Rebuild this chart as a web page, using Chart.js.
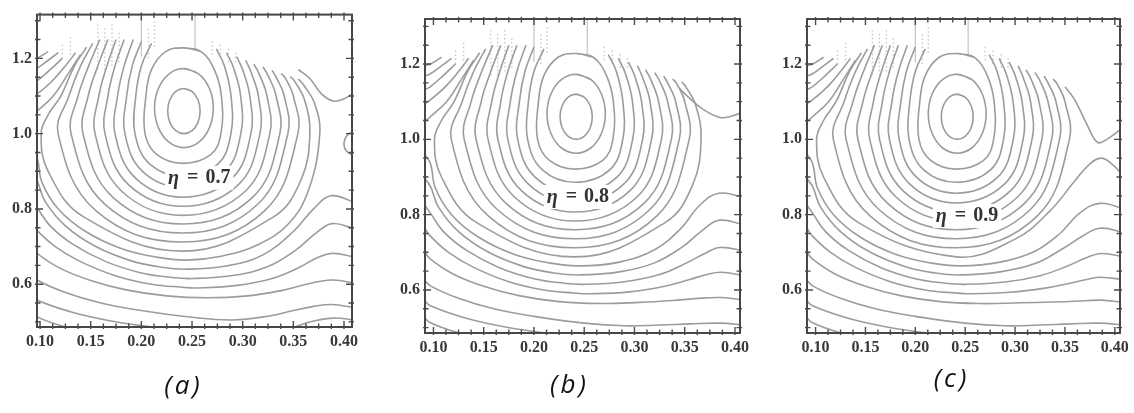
<!DOCTYPE html>
<html><head><meta charset="utf-8">
<script src="https://cdn.jsdelivr.net/npm/chart.js@4.4.1/dist/chart.umd.min.js"></script>
<style>
html,body{margin:0;padding:0;background:#fff;width:1134px;height:413px;overflow:hidden}
canvas{position:absolute;top:0}
.cap{position:absolute;font-family:'Open Sans',sans-serif;font-style:italic;font-size:26px;color:#111;transform:translate(-50%,-50%);letter-spacing:3px;padding-left:3px;white-space:nowrap}
</style></head><body>
<canvas id="ca" width="380" height="413" style="left:0"></canvas>
<canvas id="cb" width="380" height="413" style="left:380px"></canvas>
<canvas id="cc" width="374" height="413" style="left:760px"></canvas>
<div class="cap" id="capA" style="left:182px;top:384px"></div>
<div class="cap" id="capB" style="left:568px;top:383px"></div>
<div class="cap" id="capC" style="left:950px;top:377px"></div>
<script>
// ---------- tick labels / captions ----------
const xTickValues = [0.10,0.15,0.20,0.25,0.30,0.35,0.40];
const yTickValues = [0.6,0.8,1.0,1.2];
const etaValues = [0.7,0.8,0.9];
const panelLabels = ['(a)','(b)','(c)'];

// ---------- contour lines (x, y) ----------
const ring1 = [[0.242,1.12],[0.250,1.112],[0.2559,1.09],[0.258,1.06],[0.2559,1.03],[0.25,1.008],[0.242,1.0],[0.234,1.008],[0.2281,1.03],[0.226,1.06],[0.2281,1.09],[0.234,1.112],[0.242,1.12],[0.250,1.112]];
const ring2 = [[0.242,1.173],[0.2565,1.159],[0.2671,1.1205],[0.271,1.068],[0.2671,1.0155],[0.2565,0.977],[0.242,0.963],[0.2275,0.977],[0.2169,1.0155],[0.213,1.068],[0.2169,1.1205],[0.2275,1.159],[0.242,1.173],[0.2565,1.159]];
const ring3 = [[0.242,1.228],[0.259,1.218],[0.272,1.17],[0.279,1.1],[0.2785,1.0],[0.2684,0.944],[0.241,0.921],[0.2154,0.944],[0.2036,1.0],[0.2045,1.1],[0.21,1.17],[0.224,1.218],[0.242,1.228],[0.259,1.218]];
const arc4 = [[0.21,1.24],[0.2,1.18],[0.1945,1.1],[0.1937,1.0],[0.2084,0.919],[0.241,0.886],[0.2754,0.919],[0.2884,1.0],[0.2885,1.1],[0.282,1.18],[0.274,1.225]];
const arc5 = [[0.2,1.245],[0.191,1.18],[0.1855,1.1],[0.1838,1.0],[0.2014,0.899],[0.241,0.857],[0.2823,0.899],[0.2982,1.0],[0.298,1.1],[0.291,1.175],[0.284,1.215]];
const arc6 = [[0.192,1.25],[0.183,1.18],[0.1765,1.1],[0.174,1.0],[0.1945,0.881],[0.241,0.831],[0.2893,0.881],[0.3081,1.0],[0.307,1.1],[0.30,1.17],[0.294,1.205]];
const arc7 = [[0.183,1.25],[0.174,1.18],[0.167,1.1],[0.1641,1.0],[0.1875,0.864],[0.241,0.807],[0.2956,0.864],[0.317,1.0],[0.3155,1.1],[0.308,1.165],[0.303,1.195]];
const arc8 = [[0.175,1.25],[0.166,1.18],[0.158,1.1],[0.1543,1.0],[0.1806,0.847],[0.241,0.783],[0.3025,0.847],[0.3268,1.0],[0.324,1.1],[0.316,1.16],[0.311,1.185]];
const arc9 = [[0.167,1.25],[0.157,1.18],[0.1475,1.1],[0.1424,1.0],[0.1722,0.83],[0.241,0.76],[0.3095,0.83],[0.3367,1.0],[0.333,1.1],[0.325,1.155],[0.32,1.177]];
const arc10 = [[0.159,1.25],[0.148,1.18],[0.1375,1.1],[0.1306,1.0],[0.1638,0.813],[0.241,0.736],[0.3151,0.813],[0.3446,1.0],[0.341,1.1],[0.333,1.15],[0.329,1.168]];
const arc11 = [[0.152,1.24],[0.14,1.18],[0.1285,1.1],[0.1178,1.0],[0.1548,0.796],[0.241,0.712],[0.3221,0.796],[0.3545,1.0],[0.35,1.1],[0.342,1.148],[0.338,1.16]];
const arc12Left = [[0.146,1.23],[0.134,1.18],[0.1205,1.1],[0.108,1.05],[0.101,1.0],[0.108,0.9],[0.143,0.779],[0.241,0.688]];
const arc12RightAB = [[0.241,0.688],[0.3305,0.779],[0.358,0.88],[0.3663,1.0],[0.361,1.09],[0.351,1.14],[0.347,1.152]];
const arc12RightC = [[0.241,0.688],[0.3,0.735],[0.335,0.81],[0.36,0.89],[0.375,0.935],[0.386,0.95],[0.396,0.937],[0.41,0.9]];

const upLeft13 = [[0.09,1.045],[0.097,1.06],[0.113,1.1],[0.128,1.16],[0.14,1.21]];
const upLeft14 = [[0.09,1.093],[0.097,1.105],[0.112,1.14],[0.125,1.18],[0.135,1.215]];
const upLeft15 = [[0.09,1.13],[0.097,1.14],[0.11,1.17],[0.122,1.2]];
const upLeft16 = [[0.09,1.167],[0.097,1.174],[0.108,1.195],[0.118,1.215]];
const upLeft17 = [[0.09,1.195],[0.097,1.2],[0.108,1.218]];

const lowLeft13 = [[0.09,0.965],[0.097,0.936],[0.102,0.87],[0.118,0.8],[0.145,0.74],[0.18,0.695],[0.215,0.672],[0.245,0.664]];
const lowLeft14 = [[0.09,0.9],[0.097,0.875],[0.105,0.82],[0.125,0.755],[0.155,0.7],[0.19,0.662],[0.22,0.645],[0.245,0.64]];
const lowLeft15 = [[0.09,0.83],[0.097,0.804],[0.11,0.755],[0.133,0.705],[0.165,0.66],[0.2,0.63],[0.23,0.618],[0.25,0.615]];
const lowLeft16 = [[0.09,0.77],[0.097,0.743],[0.115,0.7],[0.14,0.66],[0.175,0.622],[0.21,0.6],[0.24,0.592],[0.255,0.59]];
const lowLeft17 = [[0.09,0.705],[0.097,0.682],[0.12,0.642],[0.15,0.61],[0.185,0.585],[0.225,0.569],[0.265,0.564]];
const lowLeft18 = [[0.09,0.63],[0.097,0.611],[0.125,0.578],[0.16,0.55],[0.2,0.53],[0.25,0.512],[0.29,0.505]];
const lowLeft19 = [[0.09,0.575],[0.097,0.558],[0.13,0.527],[0.165,0.505],[0.2,0.49],[0.25,0.475],[0.31,0.465]];
const lowLeft20 = [[0.09,0.53],[0.097,0.513],[0.125,0.486],[0.15,0.47]];

const lowRightA13 = [[0.245,0.664],[0.28,0.675],[0.315,0.705],[0.345,0.76],[0.365,0.85],[0.3761,1.0],[0.371,1.08],[0.36,1.13],[0.355,1.145]];
const lowRightA14 = [[0.245,0.64],[0.285,0.649],[0.32,0.678],[0.35,0.74],[0.37,0.8],[0.387,0.835],[0.41,0.818]];
const lowRightA15 = [[0.25,0.615],[0.29,0.623],[0.325,0.647],[0.352,0.69],[0.372,0.735],[0.388,0.761],[0.41,0.748]];
const lowRightA16 = [[0.255,0.59],[0.295,0.597],[0.33,0.616],[0.356,0.645],[0.374,0.671],[0.389,0.682],[0.41,0.672]];
const lowRightA17 = [[0.265,0.564],[0.305,0.569],[0.338,0.583],[0.36,0.598],[0.377,0.608],[0.39,0.611],[0.41,0.603]];
const lowRightA18 = [[0.29,0.505],[0.325,0.515],[0.35,0.53],[0.37,0.541],[0.388,0.546],[0.41,0.538]];
const lowRightA19 = [[0.31,0.465],[0.345,0.482],[0.37,0.502],[0.39,0.51],[0.41,0.505]];
const bracketA = [[0.41,1.008],[0.403,0.995],[0.4,0.975],[0.402,0.955],[0.41,0.94]];
const topRightArcA = [[0.355,1.17],[0.366,1.147],[0.378,1.105],[0.389,1.087],[0.398,1.09],[0.41,1.108]];

const lowRightB13 = [[0.245,0.664],[0.285,0.674],[0.32,0.707],[0.345,0.76],[0.365,0.825],[0.384,0.857],[0.41,0.845]];
const lowRightB14 = [[0.245,0.64],[0.285,0.648],[0.32,0.672],[0.348,0.715],[0.367,0.757],[0.384,0.785],[0.41,0.773]];
const lowRightB15 = [[0.25,0.615],[0.29,0.622],[0.325,0.641],[0.352,0.672],[0.37,0.697],[0.385,0.713],[0.41,0.703]];
const lowRightB16 = [[0.255,0.59],[0.295,0.595],[0.33,0.61],[0.355,0.628],[0.372,0.641],[0.386,0.647],[0.41,0.638]];
const lowRightB17 = [[0.265,0.564],[0.305,0.567],[0.338,0.572],[0.36,0.577],[0.386,0.58],[0.41,0.573]];
const lowRightB18 = [[0.29,0.505],[0.325,0.507],[0.355,0.51],[0.385,0.512],[0.41,0.507]];
const lowRightB19 = [[0.31,0.465],[0.35,0.45]];
const topRightArcB = [[0.345,1.135],[0.352,1.116],[0.368,1.08],[0.385,1.058],[0.397,1.062],[0.41,1.075]];

const lowRightC13 = [[0.245,0.664],[0.285,0.674],[0.32,0.703],[0.345,0.75],[0.365,0.805],[0.385,0.83],[0.41,0.815]];
const lowRightC14 = [[0.245,0.64],[0.285,0.648],[0.32,0.67],[0.348,0.71],[0.367,0.742],[0.385,0.764],[0.41,0.752]];
const lowRightC15 = [[0.25,0.615],[0.29,0.621],[0.325,0.638],[0.352,0.663],[0.37,0.684],[0.386,0.697],[0.41,0.688]];
const lowRightC16 = [[0.255,0.59],[0.295,0.594],[0.33,0.605],[0.355,0.618],[0.372,0.628],[0.386,0.634],[0.41,0.627]];
const lowRightC17 = [[0.265,0.564],[0.305,0.566],[0.338,0.568],[0.36,0.57],[0.386,0.573],[0.41,0.567]];
const lowRightC18 = [[0.29,0.505],[0.325,0.507],[0.355,0.51],[0.385,0.512],[0.41,0.507]];
const lowRightC19 = [[0.31,0.465],[0.35,0.45]];
const upperSaddleC = [[0.35,1.14],[0.36,1.104],[0.372,1.04],[0.3826,0.992],[0.392,1.0],[0.41,1.035]];

// broken / dotted fragments at the top of each panel
const noiseSolid = [[[0.2,1.205],[0.2,1.32]],[[0.253,1.22],[0.253,1.32]]];
const noiseDotted = [[[0.157,1.17],[0.157,1.29]],[[0.164,1.17],[0.164,1.28]],[[0.171,1.18],[0.171,1.29]],[[0.178,1.19],[0.178,1.27]],[[0.122,1.2],[0.122,1.24]],[[0.13,1.21],[0.13,1.26]],[[0.207,1.2],[0.207,1.28]],[[0.213,1.23],[0.213,1.3]],[[0.27,1.21],[0.27,1.25]],[[0.278,1.2],[0.278,1.24]],[[0.286,1.19],[0.286,1.23]],[[0.293,1.19],[0.293,1.22]]];

// ---------- assemble ----------
function join(a,b){return a.concat(b.slice(1));}
const sharedLines = [ring1,ring2,ring3,arc4,arc5,arc6,arc7,arc8,arc9,arc10,arc11,upLeft13,upLeft14,upLeft15,upLeft16,upLeft17,lowLeft20];
const linesA = sharedLines.concat([join(arc12Left,arc12RightAB),join(lowLeft13,lowRightA13),join(lowLeft14,lowRightA14),join(lowLeft15,lowRightA15),join(lowLeft16,lowRightA16),join(lowLeft17,lowRightA17),join(lowLeft18,lowRightA18),join(lowLeft19,lowRightA19),bracketA,topRightArcA]);
const linesB = sharedLines.concat([join(arc12Left,arc12RightAB),join(lowLeft13,lowRightB13),join(lowLeft14,lowRightB14),join(lowLeft15,lowRightB15),join(lowLeft16,lowRightB16),join(lowLeft17,lowRightB17),join(lowLeft18,lowRightB18),join(lowLeft19,lowRightB19),topRightArcB]);
const linesC = sharedLines.concat([join(arc12Left,arc12RightC),upperSaddleC,join(lowLeft13,lowRightC13),join(lowLeft14,lowRightC14),join(lowLeft15,lowRightC15),join(lowLeft16,lowRightC16),join(lowLeft17,lowRightC17),join(lowLeft18,lowRightC18),join(lowLeft19,lowRightC19)]);

const LINE_COLOR = 'rgb(156,156,156)';
function datasets(lines){
  const ds = lines.map(l=>({data:l.map(p=>({x:p[0],y:p[1]})),showLine:true,borderColor:LINE_COLOR,borderWidth:1.6,tension:0.4,pointRadius:0,fill:false}));
  noiseSolid.forEach(l=>ds.push({data:l.map(p=>({x:p[0],y:p[1]})),showLine:true,borderColor:'#c8c8c8',borderWidth:1.3,pointRadius:0}));
  noiseDotted.forEach(l=>ds.push({data:l.map(p=>({x:p[0],y:p[1]})),showLine:true,borderColor:'#c4c4c4',borderWidth:1.3,borderDash:[1.5,2.5],pointRadius:0}));
  return ds;
}

const framePlugin = {
  id:'frame',
  afterDatasetsDraw(chart,args,o){
    const {ctx,scales:{x,y}} = chart;
    const px = x.getPixelForValue(o.labelX), py = y.getPixelForValue(o.labelY);
    ctx.save();
    const fB = 'bold 20px "Liberation Serif"', fI = 'italic bold 20px "Liberation Serif"';
    ctx.font = fI; const wEta = ctx.measureText('\u03B7').width;
    ctx.font = fB; const wEq = ctx.measureText('=').width;
    const num = o.eta.toFixed(1); const wNum = ctx.measureText(num).width;
    const g1 = 8, g2 = 7, total = wEta+g1+wEq+g2+wNum;
    ctx.fillStyle = '#fff'; ctx.fillRect(px-3,py-12,total+6,24);
    ctx.fillStyle = '#333'; ctx.textBaseline = 'middle'; ctx.textAlign = 'left';
    ctx.font = fI; ctx.fillText('\u03B7',px,py+1);
    ctx.font = fB; ctx.fillText('=',px+wEta+g1,py); ctx.fillText(num,px+wEta+g1+wEq+g2,py);
    ctx.restore();
  },
  afterDraw(chart){
    const {ctx,chartArea:a,scales:{x,y}} = chart;
    ctx.save();
    ctx.strokeStyle = '#4a4a4a'; ctx.lineWidth = 1.4;
    const sx = (xTickValues[1]-xTickValues[0])/4, sy = (yTickValues[1]-yTickValues[0])/4;
    const x0 = xTickValues[0], y0 = yTickValues[0];
    ctx.beginPath();
    for(let k=Math.ceil((x.min-x0)/sx-1e-9); k<=Math.floor((x.max-x0)/sx+1e-9); k++){
      const p = x.getPixelForValue(x0+k*sx), L = (k%4===0)?6:3.5;
      ctx.moveTo(p,a.bottom+2); ctx.lineTo(p,a.bottom-L);
      ctx.moveTo(p,a.top-2); ctx.lineTo(p,a.top+L);
    }
    for(let k=Math.ceil((y.min-y0)/sy-1e-9); k<=Math.floor((y.max-y0)/sy+1e-9); k++){
      const p = y.getPixelForValue(y0+k*sy), L = (k%4===0)?6:3.5;
      ctx.moveTo(a.left-2,p); ctx.lineTo(a.left+L,p);
      ctx.moveTo(a.right+2,p); ctx.lineTo(a.right-L,p);
    }
    ctx.stroke();
    ctx.lineWidth = 2; ctx.strokeStyle = '#474747';
    ctx.strokeRect(a.left,a.top,a.right-a.left,a.bottom-a.top);
    ctx.restore();
  }
};

function makeChart(id,lines,cfg){
  const tickFont = {family:'"Liberation Serif"',size:16,weight:'bold'};
  return new Chart(document.getElementById(id),{
    type:'scatter',
    data:{datasets:datasets(lines)},
    options:{
      responsive:false,animation:false,
      layout:{padding:{left:0,top:cfg.top,right:cfg.right,bottom:0}},
      plugins:{legend:{display:false},tooltip:{enabled:false},frame:{eta:cfg.eta,labelX:cfg.labelX,labelY:cfg.labelY}},
      scales:{
        x:{type:'linear',min:cfg.xmin,max:cfg.xmax,
           afterBuildTicks:s=>{s.ticks = xTickValues.map(v=>({value:v}));},
           afterFit:s=>{s.height = cfg.xh;},
           ticks:{callback:v=>Number(v).toFixed(2),font:tickFont,color:'#383838',padding:5,maxRotation:0,autoSkip:false},
           grid:{display:false,drawTicks:false},border:{display:false}},
        y:{type:'linear',min:cfg.ymin,max:cfg.ymax,
           afterBuildTicks:s=>{s.ticks = yTickValues.map(v=>({value:v}));},
           afterFit:s=>{s.width = cfg.yw;},
           ticks:{callback:v=>Number(v).toFixed(1),font:tickFont,color:'#383838',padding:5,autoSkip:false},
           grid:{display:false,drawTicks:false},border:{display:false}}
      }
    },
    plugins:[framePlugin]
  });
}

makeChart('ca',linesA,{top:13,right:28,yw:37,xh:86,xmin:0.097,xmax:0.4079,ymin:0.4863,ymax:1.3163,eta:etaValues[0],labelX:0.2264,labelY:0.883});
makeChart('cb',linesB,{top:19,right:20,yw:45,xh:80,xmin:0.0916,xmax:0.405,ymin:0.4858,ymax:1.3195,eta:etaValues[1],labelX:0.2127,labelY:0.847});
makeChart('cc',linesC,{top:19,right:11,yw:47,xh:80,xmin:0.0914,xmax:0.4052,ymin:0.4858,ymax:1.3195,eta:etaValues[2],labelX:0.2206,labelY:0.7965});

document.getElementById('capA').textContent = panelLabels[0];
document.getElementById('capB').textContent = panelLabels[1];
document.getElementById('capC').textContent = panelLabels[2];
</script>
</body></html>
